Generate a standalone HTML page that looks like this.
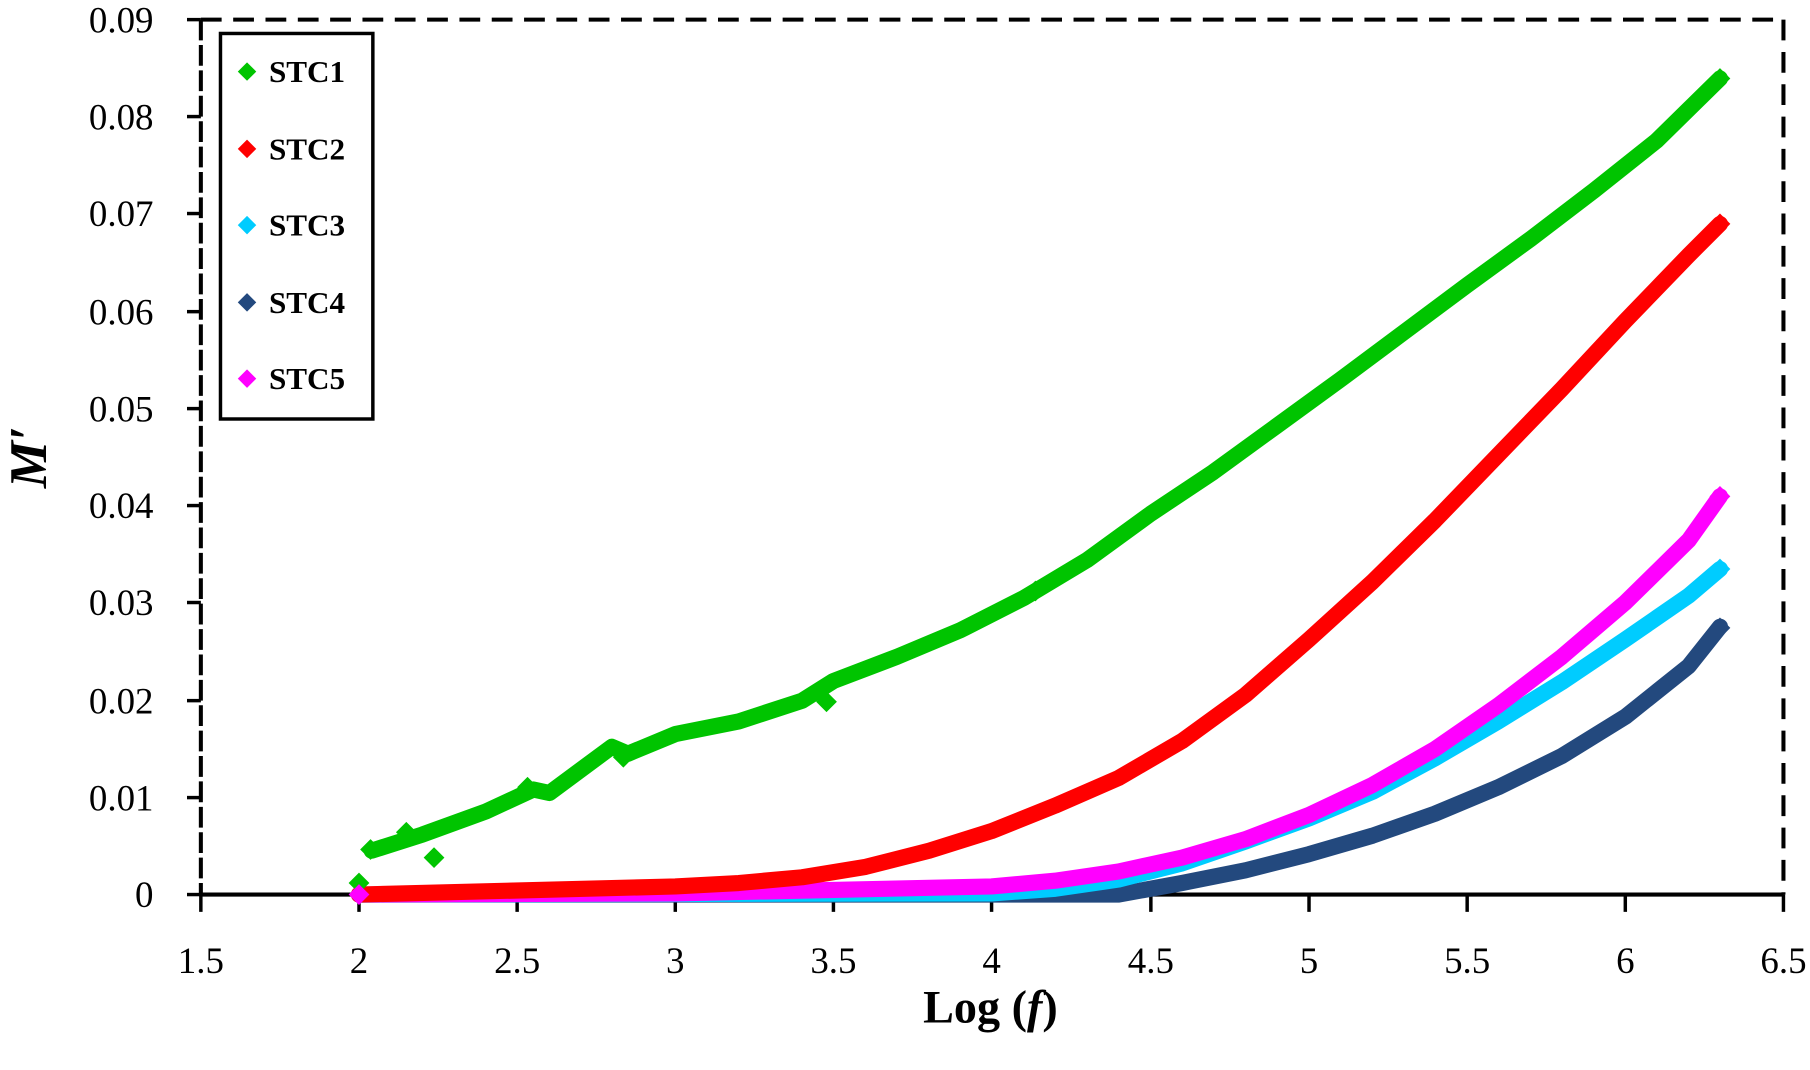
<!DOCTYPE html>
<html><head><meta charset="utf-8"><style>
html,body{margin:0;padding:0;background:#fff}
svg{display:block}
text{font-family:"Liberation Serif",serif}
</style></head><body>
<svg width="1810" height="1070" viewBox="0 0 1568 927" preserveAspectRatio="none">
<g stroke="#000" stroke-width="3.5" fill="none">
<line x1="174" y1="17" x2="1545" y2="17" stroke-dasharray="18,10"/>
<line x1="1545" y1="17" x2="1545" y2="775" stroke-dasharray="18,10"/>
<line x1="174" y1="17" x2="174" y2="775" stroke-dasharray="18,4"/>
<line x1="174" y1="775" x2="1545" y2="775"/>
</g>
<g stroke="#000" stroke-width="3">
<line x1="162" y1="17" x2="174" y2="17"/><line x1="162" y1="101" x2="174" y2="101"/><line x1="162" y1="185" x2="174" y2="185"/><line x1="162" y1="270" x2="174" y2="270"/><line x1="162" y1="354" x2="174" y2="354"/><line x1="162" y1="438" x2="174" y2="438"/><line x1="162" y1="522" x2="174" y2="522"/><line x1="162" y1="607" x2="174" y2="607"/><line x1="162" y1="691" x2="174" y2="691"/><line x1="162" y1="775" x2="174" y2="775"/>
<line x1="174" y1="775" x2="174" y2="790"/><line x1="311" y1="775" x2="311" y2="790"/><line x1="448" y1="775" x2="448" y2="790"/><line x1="585" y1="775" x2="585" y2="790"/><line x1="722" y1="775" x2="722" y2="790"/><line x1="859" y1="775" x2="859" y2="790"/><line x1="997" y1="775" x2="997" y2="790"/><line x1="1134" y1="775" x2="1134" y2="790"/><line x1="1271" y1="775" x2="1271" y2="790"/><line x1="1408" y1="775" x2="1408" y2="790"/><line x1="1545" y1="775" x2="1545" y2="790"/>
</g>
<g font-size="32" text-anchor="end">
<text x="133" y="28">0.09</text><text x="133" y="112">0.08</text><text x="133" y="196">0.07</text><text x="133" y="281">0.06</text><text x="133" y="365">0.05</text><text x="133" y="449">0.04</text><text x="133" y="533">0.03</text><text x="133" y="618">0.02</text><text x="133" y="702">0.01</text><text x="133" y="786">0</text>
</g>
<g font-size="32" text-anchor="middle">
<text x="174" y="843">1.5</text><text x="311" y="843">2</text><text x="448" y="843">2.5</text><text x="585" y="843">3</text><text x="722" y="843">3.5</text><text x="859" y="843">4</text><text x="997" y="843">4.5</text><text x="1134" y="843">5</text><text x="1271" y="843">5.5</text><text x="1408" y="843">6</text><text x="1545" y="843">6.5</text>
</g>
<text x="858" y="886" font-size="40" font-weight="bold" text-anchor="middle">Log (<tspan font-style="italic">f</tspan>)</text>
<text transform="translate(40,396) rotate(-90)" font-size="46" font-weight="bold" font-style="italic" text-anchor="middle">M′</text>
<g fill="none" stroke-width="14" stroke-linejoin="round" stroke-linecap="round">
<polyline stroke="#23497e" points="311,775 859,775 969,775 1024,765 1079,754 1134,740 1189,724 1243,705 1298,682 1353,655 1408,621 1463,577 1490,543"/>
<polyline stroke="#00ccff" points="311,775 859,774 914,770 969,762 1024,748 1079,729 1134,709 1189,686 1243,657 1298,625 1353,591 1408,554 1463,516 1490,493"/>
<polyline stroke="#ff00ff" points="311,775 585,774 859,768 914,763 969,755 1024,743 1079,727 1134,706 1189,680 1243,649 1298,611 1353,569 1408,522 1463,468 1490,430"/>
<polyline stroke="#ff0000" points="311,775 585,768 640,765 695,760 750,751 805,737 859,720 914,698 969,674 1024,642 1079,602 1134,554 1189,504 1243,451 1298,394 1353,337 1408,278 1463,221 1490,194"/>
<polyline stroke="#00c400" points="322,737 366,723 421,703 462,684 476,687 530,647 544,653 585,636 640,625 695,607 722,590 777,569 832,546 887,518 942,485 997,445 1051,409 1106,369 1161,329 1216,288 1271,247 1326,207 1381,165 1435,122 1490,68"/>
</g>
<g>
<path fill="#00c400" d="M311,756l9,9l-9,9l-9,-9z M376,734l9,9l-9,9l-9,-9z M352,712l9,9l-9,9l-9,-9z M540,647l9,9l-9,9l-9,-9z M716,599l9,9l-9,9l-9,-9z M1490,59l9,9l-9,9l-9,-9z M321,727l9,9l-9,9l-9,-9z M897,503l9,9l-9,9l-9,-9z M457,673l9,9l-9,9l-9,-9z"/>
<path fill="#ff0000" d="M1490,185l9,9l-9,9l-9,-9z"/>
<path fill="#ff00ff" d="M1490,421l9,9l-9,9l-9,-9z M311,766l9,9l-9,9l-9,-9z"/>
<path fill="#00ccff" d="M1490,484l9,9l-9,9l-9,-9z"/>
<path fill="#23497e" d="M1490,535l9,9l-9,9l-9,-9z"/>
</g>
<rect x="191" y="29" width="132" height="334" fill="#fff" stroke="#000" stroke-width="3"/>
<g>
<path fill="#00c400" d="M214,54l8,8l-8,8l-8,-8z"/>
<path fill="#ff0000" d="M214,121l8,8l-8,8l-8,-8z"/>
<path fill="#00ccff" d="M214,187l8,8l-8,8l-8,-8z"/>
<path fill="#23497e" d="M214,254l8,8l-8,8l-8,-8z"/>
<path fill="#ff00ff" d="M214,320l8,8l-8,8l-8,-8z"/>
</g>
<g font-size="27" font-weight="bold">
<text x="233" y="71">STC1</text><text x="233" y="138">STC2</text><text x="233" y="204">STC3</text><text x="233" y="271">STC4</text><text x="233" y="337">STC5</text>
</g>
</svg>
</body></html>
